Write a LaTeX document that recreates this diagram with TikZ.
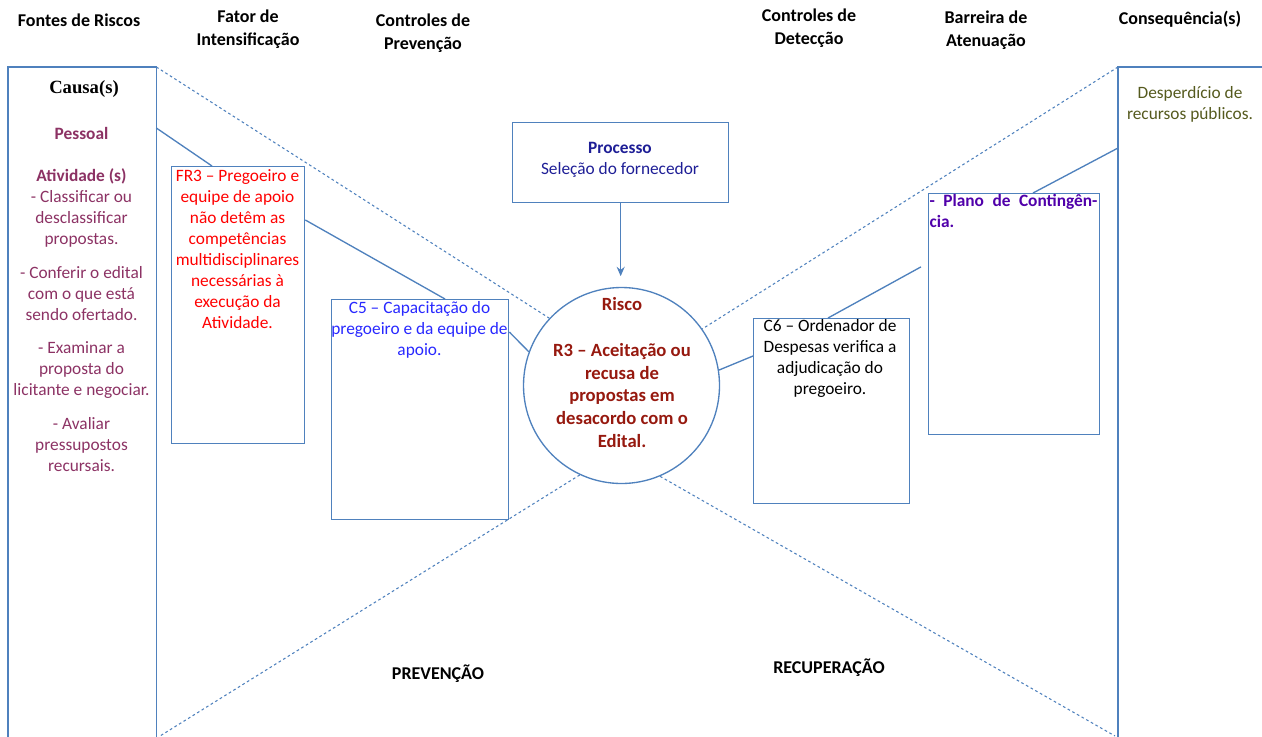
\documentclass[tikz,border=0pt]{standalone}
\usepackage{fontspec}
\setmainfont{Carlito}
\newfontfamily\causafont{Liberation Serif}
\usetikzlibrary{arrows.meta,positioning}
\definecolor{linha}{RGB}{79,129,189}
\definecolor{pessoal}{RGB}{140,50,100}
\definecolor{fator}{RGB}{255,0,0}
\definecolor{prev}{RGB}{40,40,255}
\definecolor{proc}{RGB}{30,30,150}
\definecolor{risco}{RGB}{150,25,15}
\definecolor{plano}{RGB}{80,0,170}
\definecolor{conseq}{RGB}{85,90,30}

\begin{document}
\begin{tikzpicture}[x=0.75pt, y=-0.75pt,
    box/.style={rectangle, draw=linha, line width=1pt, inner sep=0pt, anchor=north west},
    head/.style={font=\bfseries\fontsize{13.5}{17.25}\selectfont, align=center},
    txt/.style={font=\fontsize{13}{15.75}\selectfont, align=center, inner sep=0pt, anchor=north},
    link/.style={draw=linha, line width=1pt},
    bow/.style={draw=linha, line width=0.8pt, dash pattern=on 2pt off 2pt},
    arrow/.style={-{Stealth[length=7pt, width=6pt]}, link}]

    \useasboundingbox (0,0) rectangle (1262,736);

    \node[head] (hfontes) at (79,20) {Fontes de Riscos};
    \node[head] (hfator) at (248,29) {Fator de\\Intensificação};
    \node[head] (hprev) at (423,33) {Controles de\\Prevenção};
    \node[head] (hdet) at (809,28) {Controles de\\Detecção};
    \node[head] (hbarr) at (986,30) {Barreira de\\Atenuação};
    \node[head] (hcons) at (1180,19) {Consequência(s)};

    \node[box, draw=none, minimum width=110.25pt, minimum height=510pt] (causa) at (8,67) {};
    \node[box, minimum width=99.75pt, minimum height=207.75pt] (fr3) at (171,166) {};
    \node[box, minimum width=132.75pt, minimum height=165pt] (c5) at (331,299) {};
    \node[box, minimum width=162pt, minimum height=60pt] (proc) at (512,122) {};
    \node[circle, draw=linha, line width=1pt, minimum size=147pt] (risco) at (621.5,385.5) {};
    \node[box, minimum width=117pt, minimum height=138.75pt] (c6) at (753,318) {};
    \node[box, minimum width=128.25pt, minimum height=180.75pt] (plano) at (928,193) {};
    \node[box, draw=none, minimum width=117.75pt, minimum height=510pt] (cons) at (1118,67) {};

    \draw[link] (causa.south west) -- (causa.north west) -- (causa.north east) -- (causa.south east);
    \draw[link] (cons.south west) -- (cons.north west) -- (cons.north east);

    \node[font=\causafont\bfseries\fontsize{14}{16}\selectfont] (causatit) at (84,89) {Causa(s)};
    \node[txt, text=pessoal] (causatxt) at (81.5,127) {\textbf{Pessoal}\\[15.75pt]
        \textbf{Atividade (s)}\\- Classificar ou\\desclassificar\\propostas.\\[9.5pt]
        - Conferir o edital\\com o que está\\sendo ofertado.\\[9.5pt]
        - Examinar a\\proposta do\\licitante e negociar.\\[9.5pt]
        - Avaliar\\pressupostos\\recursais.};
    \node[txt, text=fator] (fr3txt) at (237.5,169) {FR3 – Pregoeiro e\\equipe de apoio\\não detêm as\\competências\\multidisciplinares\\necessárias à\\execução da\\Atividade.};
    \node[txt, text=prev] (c5txt) at (419.5,301) {C5 – Capacitação do\\pregoeiro e da equipe de\\apoio.};
    \node[txt, text=proc] (proctxt) at (620,142) {\textbf{Processo}\\Seleção do fornecedor};
    \node[txt, text=risco, font=\bfseries\fontsize{14}{17}\selectfont] (riscotxt) at (622,297) {Risco\\[17.5pt]
        R3 – Aceitação ou\\recusa de\\propostas em\\desacordo com o\\Edital.};
    \node[txt] (c6txt) at (830,319) {C6 – Ordenador de\\Despesas verifica a\\adjudicação do\\pregoeiro.};
    \node[txt, text=plano, font=\bfseries\fontsize{13}{15.75}\selectfont, align=left] (planotxt) at (1013.5,194)
        {\makebox[126pt][s]{- Plano de Contingên-}\\cia.};
    \node[txt, text=conseq] (constxt) at (1190,86) {Desperdício de\\recursos públicos.};

    \node[head] (lprev) at (438,674) {PREVENÇÃO};
    \node[head] (lrec) at (829,668) {RECUPERAÇÃO};

    \coordinate (bowsw) at (160,736);
    \coordinate (bowse) at (1115,736);
    \draw[bow] (causa.north east) -- (risco.137);
    \draw[bow] (cons.north west) -- (risco.35);
    \draw[bow] (risco.-115) -- (bowsw);
    \draw[bow] (risco.-67) -- (bowse);

    \draw[link] (causa.east |- 0,128) -- (fr3.north -| 212,0);
    \draw[link] (fr3.east |- 0,220) -- (c5.north -| 445,0);
    \draw[link] (c5.east |- 0,332) -- (risco.160);
    \draw[arrow, shorten >=8pt] (proc.south) -- (proc.south |- risco.north);
    \draw[link] (risco.9) -- (c6.west |- 0,356);
    \draw[link, shorten >=6pt] (c6.north -| 828,0) -- (plano.west |- 0,263);
    \draw[link] (cons.west |- 0,148) -- (plano.north -| 1033,0);
\end{tikzpicture}
\end{document}
